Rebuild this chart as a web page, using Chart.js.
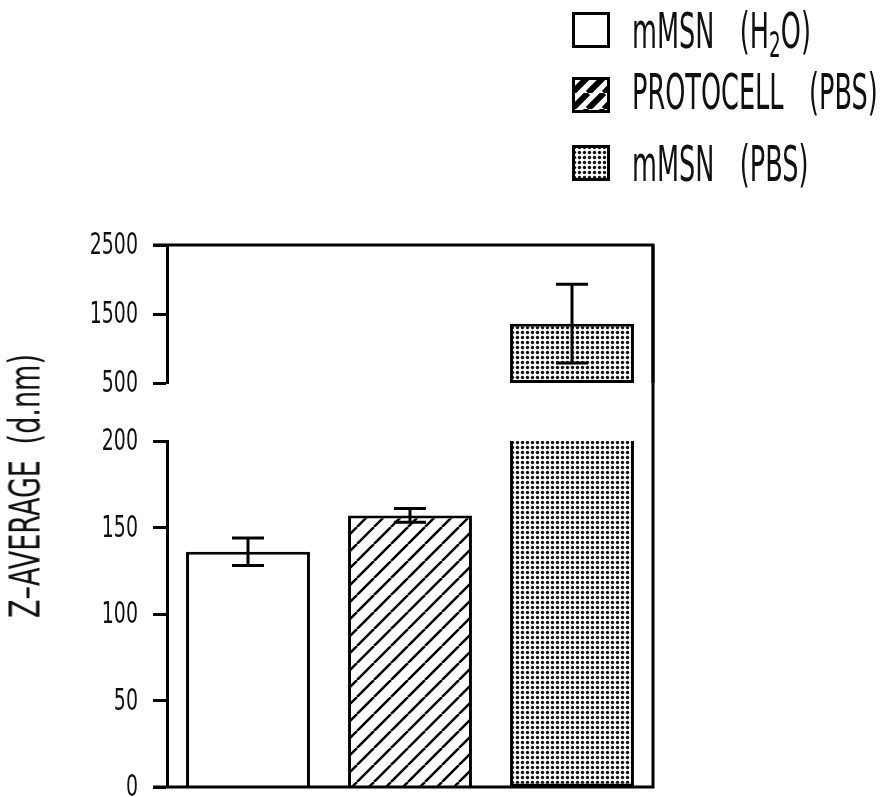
<!DOCTYPE html>
<html>
<head>
<meta charset="utf-8">
<title>Z-average</title>
<script src="https://cdn.jsdelivr.net/npm/chart.js@4"></script>
<style>
  html, body { margin: 0; padding: 0; background: #fff; overflow: hidden; }
  .wrap { position: relative; width: 891px; height: 797px; overflow: hidden; }
  canvas.plot { position: absolute; left: 0; top: 0; }
  .legend-row { position: absolute; left: 572px; }
  .legend-row canvas { position: absolute; left: 0; top: 0; }
  .legend-text {
    position: absolute; left: 60px; white-space: nowrap;
    font-family: 'DejaVu Sans Condensed', sans-serif;
    font-size: 49px; line-height: 49px; color: #111;
    transform: scaleX(0.58); transform-origin: 0 0; word-spacing: 30px;
  }
  .legend-text sub { font-size: 0.72em; vertical-align: -0.25em; line-height: 0; }
  .ytitle {
    position: absolute; left: 25px; top: 486px; white-space: nowrap;
    font-family: 'DejaVu Sans Condensed', sans-serif;
    font-size: 43px; line-height: 43px; color: #111; word-spacing: 10px;
    transform: translate(-50%, -50%) rotate(-90deg) scaleX(0.7);
  }
</style>
</head>
<body>
<div class="wrap">
  <canvas id="highChart" class="plot" width="891" height="830"></canvas>
  <canvas id="lowChart" class="plot" width="891" height="830"></canvas>
  <div id="legend"></div>
  <div class="ytitle">Z–AVERAGE (d.nm)</div>
</div>
<script>
  // dane
  const categories = ['mMSN (H2O)', 'PROTOCELL (PBS)', 'mMSN (PBS)'];
  const legendLabels = ['mMSN (H<sub>2</sub>O)', 'PROTOCELL (PBS)', 'mMSN (PBS)'];
  const zAverage = [136, 157, 1360];
  const zError = [8, 4, 570];
  const lowTicks = [0, 50, 100, 150, 200];
  const highTicks = [500, 1500, 2500];

  // uklad
  const PLOT_LEFT = 167, PLOT_RIGHT = 653;
  const HIGH_TOP = 245, HIGH_BOTTOM = 383;
  const LOW_TOP = 441, LOW_BOTTOM = 787;
  const CANVAS_W = 891, CANVAS_H = 830;
  const TICK_LEN = 14;
  const TICK_FONT = "31px 'DejaVu Sans Condensed', sans-serif";

  // wzory wypelnienia
  function hatchPattern(ctx, size, lw) {
    const c = document.createElement('canvas');
    c.width = c.height = size;
    const g = c.getContext('2d');
    g.fillStyle = '#fff';
    g.fillRect(0, 0, size, size);
    g.strokeStyle = '#000';
    g.lineWidth = lw;
    g.beginPath();
    [-size, 0, size].forEach(o => {
      g.moveTo(o, size);
      g.lineTo(o + size, 0);
    });
    g.stroke();
    return ctx.createPattern(c, 'repeat');
  }

  function dotPattern(ctx) {
    const c = document.createElement('canvas');
    c.width = 5; c.height = 5;
    const g = c.getContext('2d');
    g.fillStyle = '#fff';
    g.fillRect(0, 0, 5, 5);
    g.fillStyle = '#111';
    g.beginPath();
    g.arc(2.5, 2.5, 1.7, 0, Math.PI * 2);
    g.fill();
    return ctx.createPattern(c, 'repeat');
  }

  function fills(ctx, hatchSize, hatchLw) {
    return ['#ffffff', hatchPattern(ctx, hatchSize, hatchLw), dotPattern(ctx)];
  }

  // slupki bledow
  const errorBars = {
    id: 'errorBars',
    afterDatasetsDraw(chart) {
      const ctx = chart.ctx;
      const y = chart.scales.y;
      const meta = chart.getDatasetMeta(0);
      ctx.save();
      ctx.strokeStyle = '#000';
      ctx.lineWidth = 3;
      meta.data.forEach((bar, i) => {
        if (chart.data.datasets[0].data[i] == null) return;
        const lo = zAverage[i] - zError[i];
        const hi = zAverage[i] + zError[i];
        if (hi < y.min || lo > y.max) return;
        const x = bar.x;
        const yTop = y.getPixelForValue(Math.min(hi, y.max));
        const yBot = y.getPixelForValue(Math.max(lo, y.min));
        const cap = 16;
        ctx.beginPath();
        ctx.moveTo(x, yTop);
        ctx.lineTo(x, yBot);
        if (hi <= y.max) { ctx.moveTo(x - cap, yTop); ctx.lineTo(x + cap, yTop); }
        if (lo >= y.min) { ctx.moveTo(x - cap, yBot); ctx.lineTo(x + cap, yBot); }
        ctx.stroke();
      });
      ctx.restore();
    }
  };

  // ramka wykresu + waskie etykiety osi Y
  const frame = {
    id: 'frame',
    afterDraw(chart, args, opts) {
      const a = chart.chartArea;
      const ctx = chart.ctx;
      ctx.save();
      ctx.strokeStyle = '#000';
      ctx.lineWidth = 3;
      ctx.beginPath();
      if (opts.part === 'high') {
        ctx.moveTo(a.left - TICK_LEN, a.top);
        ctx.lineTo(a.right, a.top);
        ctx.lineTo(a.right, a.bottom);
      } else {
        ctx.moveTo(a.right, HIGH_TOP);
        ctx.lineTo(a.right, a.bottom);
        ctx.lineTo(a.left - TICK_LEN, a.bottom);
      }
      ctx.stroke();

      const s = chart.scales.y;
      ctx.fillStyle = '#111';
      ctx.font = TICK_FONT;
      ctx.textAlign = 'right';
      ctx.textBaseline = 'middle';
      s.ticks.forEach(t => {
        ctx.save();
        ctx.translate(a.left - TICK_LEN - 15, s.getPixelForValue(t.value) + 1);
        ctx.scale(0.68, 1);
        ctx.fillText(String(t.value), 0, 0);
        ctx.restore();
      });
      ctx.restore();
    }
  };

  function yScale(ticks) {
    return {
      min: ticks[0],
      max: ticks[ticks.length - 1],
      afterBuildTicks: s => { s.ticks = ticks.map(v => ({ value: v })); },
      afterFit: s => { s.width = PLOT_LEFT; },
      border: { display: true, color: '#000', width: 3 },
      grid: { display: true, drawOnChartArea: false, drawTicks: true, tickLength: TICK_LEN, tickWidth: 3, tickColor: '#000', color: '#000' },
      ticks: { display: false }
    };
  }

  function makeChart(id, part, data, ticks, top, bottom) {
    const canvas = document.getElementById(id);
    const ctx = canvas.getContext('2d');
    return new Chart(canvas, {
      type: 'bar',
      data: {
        labels: categories,
        datasets: [{
          data: data,
          backgroundColor: fills(ctx, 17, 2.5),
          borderColor: '#000',
          borderWidth: 3,
          borderSkipped: c => {
            if (part === 'high') return false;
            return c.raw >= ticks[ticks.length - 1] ? 'top' : 'start';
          },
          categoryPercentage: 1,
          barPercentage: 0.765
        }]
      },
      options: {
        responsive: false,
        animation: false,
        devicePixelRatio: 1,
        layout: { padding: { top: top, bottom: CANVAS_H - bottom, left: 0, right: CANVAS_W - PLOT_RIGHT } },
        plugins: { legend: { display: false }, tooltip: { enabled: false }, frame: { part: part } },
        scales: {
          x: { display: false },
          y: yScale(ticks)
        }
      },
      plugins: [errorBars, frame]
    });
  }

  const lowMax = lowTicks[lowTicks.length - 1];
  const highMin = highTicks[0];
  const lowData = zAverage.map(v => Math.min(v, lowMax));
  const highData = zAverage.map(v => v > highMin ? [highMin, v] : null);

  makeChart('highChart', 'high', highData, highTicks, HIGH_TOP, HIGH_BOTTOM);
  makeChart('lowChart', 'low', lowData, lowTicks, LOW_TOP, LOW_BOTTOM);

  // legenda
  const legendTops = [12, 77, 145];
  const textTops = [7, 68, 140];
  const legend = document.getElementById('legend');
  legendLabels.forEach((label, i) => {
    const row = document.createElement('div');
    row.className = 'legend-row';
    row.style.top = legendTops[i] + 'px';
    const sw = document.createElement('canvas');
    sw.width = 38; sw.height = 36;
    const g = sw.getContext('2d');
    g.fillStyle = fills(g, 16, 6)[i];
    g.fillRect(0, 0, 38, 36);
    g.strokeStyle = '#000';
    g.lineWidth = 3;
    g.strokeRect(1.5, 1.5, 35, 33);
    row.appendChild(sw);
    const t = document.createElement('div');
    t.className = 'legend-text';
    t.style.top = (textTops[i] - legendTops[i]) + 'px';
    t.innerHTML = label;
    row.appendChild(t);
    legend.appendChild(row);
  });
</script>
</body>
</html>
